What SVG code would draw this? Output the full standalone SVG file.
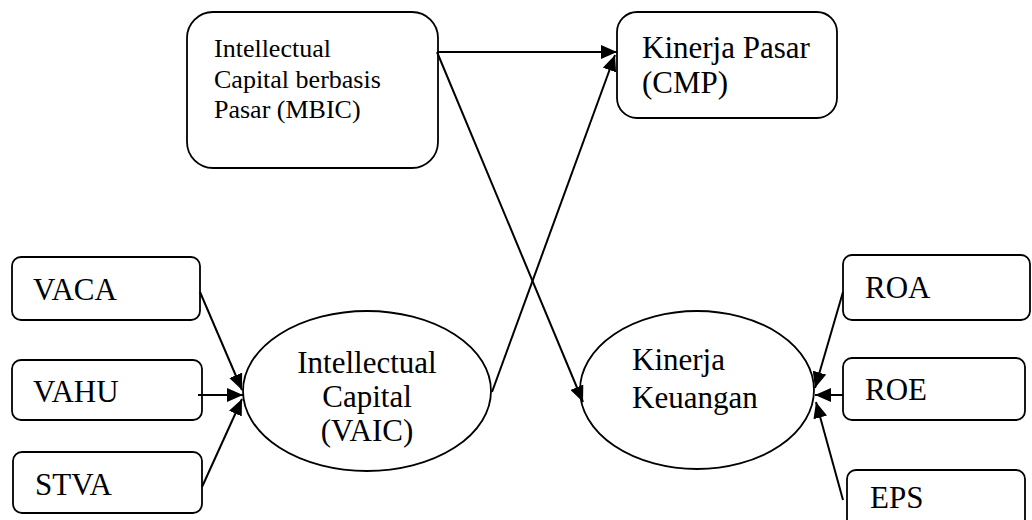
<svg xmlns="http://www.w3.org/2000/svg" width="1032" height="520" viewBox="0 0 1032 520">
<style>
.box{fill:#fff;stroke:#000;stroke-width:1.8}
.t{font-family:"Liberation Serif","Times New Roman",serif;fill:#000;font-size:31px}
.s{font-size:26px}
.c{stroke:#000;stroke-width:2;fill:none;marker-end:url(#ah)}
</style>
<defs>
<marker id="ah" markerUnits="userSpaceOnUse" markerWidth="18" markerHeight="14" refX="16" refY="7" orient="auto">
<path d="M0,0 L16,7 L0,14 z" fill="#000"/>
</marker>
</defs>
<rect width="1032" height="520" fill="#fff"/>
<g id="mbic">
<rect class="box" x="187" y="12" width="251" height="156" rx="26"/>
<text class="t s" x="214" y="57">Intellectual</text>
<text class="t s" x="214" y="88">Capital berbasis</text>
<text class="t s" x="214" y="118">Pasar (MBIC)</text>
</g>
<g id="cmp">
<rect class="box" x="617" y="12" width="220" height="106" rx="20"/>
<text class="t" x="642" y="58">Kinerja Pasar</text>
<text class="t" x="642" y="93">(CMP)</text>
</g>
<g id="vaic">
<ellipse class="box" cx="367" cy="391" rx="124" ry="80"/>
<text class="t" x="367" y="373" text-anchor="middle">Intellectual</text>
<text class="t" x="367" y="407" text-anchor="middle">Capital</text>
<text class="t" x="367" y="441" text-anchor="middle">(VAIC)</text>
</g>
<g id="keuangan">
<ellipse class="box" cx="697" cy="390" rx="117" ry="79"/>
<text class="t" x="632" y="370">Kinerja</text>
<text class="t" x="632" y="408">Keuangan</text>
</g>
<g id="vaca">
<rect class="box" x="12" y="257" width="188" height="63" rx="9"/>
<text class="t" x="33" y="300">VACA</text>
</g>
<g id="vahu">
<rect class="box" x="12" y="360" width="190" height="60" rx="9"/>
<text class="t" x="33" y="402">VAHU</text>
</g>
<g id="stva">
<rect class="box" x="13" y="452" width="189" height="61" rx="9"/>
<text class="t" x="35" y="495">STVA</text>
</g>
<g id="roa">
<rect class="box" x="843" y="255" width="187" height="65" rx="9"/>
<text class="t" x="865" y="298">ROA</text>
</g>
<g id="roe">
<rect class="box" x="843" y="358" width="182" height="62" rx="9"/>
<text class="t" x="865" y="400">ROE</text>
</g>
<g id="eps">
<rect class="box" x="847" y="470" width="178" height="62" rx="9"/>
<text class="t" x="870" y="508">EPS</text>
</g>
<g id="connectors">
<line class="c" x1="437" y1="52" x2="617" y2="52"/>
<line class="c" x1="437" y1="52" x2="583" y2="402"/>
<line class="c" x1="492" y1="392" x2="615" y2="55"/>
<line class="c" x1="200" y1="292" x2="242" y2="390"/>
<line class="c" x1="198" y1="395" x2="243" y2="395"/>
<line class="c" x1="202" y1="487" x2="242" y2="399"/>
<line class="c" x1="843" y1="292" x2="815" y2="388"/>
<line class="c" x1="843" y1="395" x2="815" y2="395"/>
<line class="c" x1="843" y1="500" x2="816" y2="402"/>
</g>
</svg>
